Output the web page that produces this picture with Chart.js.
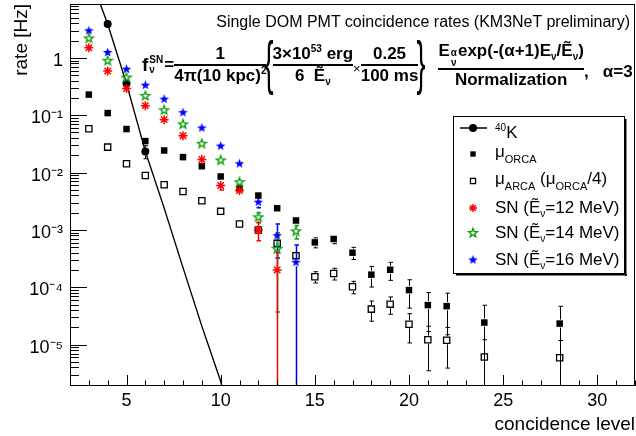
<!DOCTYPE html>
<html>
<head>
<meta charset="utf-8">
<script src="https://cdn.jsdelivr.net/npm/chart.js@4.4.1/dist/chart.umd.min.js"></script>
<style>
  html, body { margin: 0; padding: 0; background: #fff; }
  #wrap { position: relative; width: 636px; height: 436px; font-family: 'Liberation Sans', Arial, sans-serif; color: #000; }
  #c { position: absolute; left: 0; top: 0; }
  .txt { position: absolute; white-space: nowrap; line-height: 22px; }
  #title { right: 6px; top: 11px; font-size: 16px; }
  .lg { left: 495px; font-size: 17px; }
  .up { font-size: 10px; vertical-align: 7px; }
  .dn { font-size: 11px; vertical-align: -6px; }
  .dn2 { font-size: 10px; vertical-align: -4px; }
  #formula { position: absolute; left: 142px; top: 37px; height: 56px; display: flex; align-items: center; font-weight: bold; font-size: 17px; white-space: nowrap; }
  .ss { display: inline-flex; flex-direction: column; font-size: 10px; line-height: 10px; margin: 0 1px; }
  .frac { display: inline-flex; flex-direction: column; text-align: center; line-height: 20px; }
  .frac > span:first-child { border-bottom: 2px solid #000; }
  .brace { font-weight: normal; font-size: 60px; line-height: 60px; transform: scaleX(0.45); margin: -4px -7px 0 -7px; }
  .frac sup, .frac sub { font-size: 10px; line-height: 0; }
</style>
</head>
<body>
<div id="wrap">
  <canvas id="c" width="636" height="436"></canvas>
  <div class="txt" id="title">Single DOM PMT coincidence rates (KM3NeT preliminary)</div>
  <div id="formula">
    <span style="font-size:19px">f</span><span class="ss"><span>SN</span><span>ν</span></span>
    <span>=</span>
    <span class="frac"><span>1</span><span>4π(10 kpc)<sup>2</sup></span></span>
    <span class="brace">{</span>
    <span class="frac"><span>3×10<sup>53</sup> erg</span><span>6&nbsp;&nbsp;Ẽ<sub>ν</sub></span></span>
    <span style="font-weight:normal;font-size:13px;margin-top:6px">×</span>
    <span class="frac"><span>0.25</span><span>100 ms</span></span>
    <span class="brace">}</span>
    <span class="frac" style="margin-left:14px"><span>E<span class="ss"><span>α</span><span>ν</span></span>exp(-(α+1)E<sub>ν</sub>/Ẽ<sub>ν</sub>)</span><span>Normalization</span></span>
    <span style="margin-top:14px">,&nbsp;&nbsp; α=3</span>
  </div>
  <div class="txt lg" style="top:117px"><span class="up">40</span>K</div>
  <div class="txt lg" style="top:141px">μ<span class="dn">ORCA</span></div>
  <div class="txt lg" style="top:168px">μ<span class="dn">ARCA</span> (μ<span class="dn">ORCA</span>/4)</div>
  <div class="txt lg" style="top:197px">SN (Ẽ<span class="dn2">ν</span>=12 MeV)</div>
  <div class="txt lg" style="top:222px">SN (Ẽ<span class="dn2">ν</span>=14 MeV)</div>
  <div class="txt lg" style="top:249px">SN (Ẽ<span class="dn2">ν</span>=16 MeV)</div>
</div>
<script>
// coincidence levels and rates [Hz]
const levels = [3, 4, 5, 6, 7, 8, 9, 10, 11, 12, 13, 14, 15, 16, 17, 18, 19, 20, 21, 22, 24, 28];
const orcaRate = [0.229, 0.109, 0.0574, 0.0354, 0.0243, 0.0186, 0.0129, 0.00855, 0.0053, 0.00398, 0.00239, 0.00146,
  6.07e-4, 6.95e-4, 4.01e-4, 1.66e-4, 2.02e-4, 8.93e-5, 4.89e-5, 4.69e-5, 2.43e-5, 2.33e-5];
const orcaErr = [0, 0, 0, 0.001, 0.0007, 0.0006, 0.0005, 0.0004, 0.0003, 0.00025, 0.00018, 0.00012,
  1.2e-4, 1.2e-4, 9.6e-5, 6.5e-5, 7e-5, 4.6e-5, 3.2e-5, 3.2e-5, 2.43e-5, 2.33e-5];
const arcaRate = [0.058, 0.0278, 0.0143, 0.0089, 0.00612, 0.00467, 0.00323, 0.00211, 0.00127, 0.001, 5.83e-4, 3.56e-4,
  1.53e-4, 1.74e-4, 1.02e-4, 4.16e-5, 5.08e-5, 2.27e-5, 1.22e-5, 1.19e-5, 6.1e-6, 5.9e-6];
const arcaErr = [0, 0, 0, 0, 0, 0, 0.0001, 0.0001, 8e-5, 6e-5, 4.5e-5, 3e-5,
  3.4e-5, 4e-5, 2.5e-5, 1.6e-5, 1.7e-5, 1.2e-5, 8.7e-6, 8e-6, 6.1e-6, 5.9e-6];

const k40Levels = [3, 4, 5, 6, 7, 8, 9, 10, 11];
const k40Rate = [30, 3.9, 0.356, 0.0234, 2.4e-3, 2.2e-4, 2.1e-5, 2.3e-6, 1e-7];
const k40Err = [0, 0, 0, 0.006, 0, 0, 0, 0, 0];

const sn12Levels = [3, 4, 5, 6, 7, 8, 9, 10, 11, 12, 13];
const sn12Rate = [1.5, 0.59, 0.292, 0.147, 0.0838, 0.044, 0.0169, 0.00595, 0.00487, 0.001, 2e-4];
const sn12Err = [0, 0, 0, 0, 0.002, 0.0015, 0.0015, 0.001, 0.00065, 0.00035, 2e-4];

const snLevels = [3, 4, 5, 6, 7, 8, 9, 10, 11, 12, 13, 14];
const sn14Rate = [2.18, 0.89, 0.454, 0.217, 0.122, 0.0693, 0.0319, 0.0163, 0.00679, 0.00166, 4.67e-4, 9.46e-4];
const sn14Err = [0, 0, 0, 0, 0.003, 0.002, 0.002, 0.0016, 0.0011, 0.00033, 4.3e-4, 2.5e-4];
const sn16Rate = [2.97, 1.24, 0.634, 0.333, 0.19, 0.111, 0.0598, 0.029, 0.01425, 0.00304, 7.94e-4, 2.72e-4];
const sn16Err = [0, 0, 0, 0, 0.004, 0.003, 0.003, 0.002, 0.002, 0.0006, 4.7e-4, 2.72e-4];

const yMin = 1.9e-6, yMax = 8.7;
const RED = '#ff0000', GREEN = '#10a010', BLUE = '#0000ff';

const pts = (xs, ys) => xs.map((v, i) => ({ x: v, y: ys[i] }));

function starCanvas(size, fill, stroke, lw) {
  const c = document.createElement('canvas');
  c.width = c.height = size;
  const g = c.getContext('2d');
  const R = size / 2 - lw, r = R * 0.42, m = size / 2;
  g.beginPath();
  for (let k = 0; k < 10; k++) {
    const a = -Math.PI / 2 + k * Math.PI / 5;
    const rr = k % 2 ? r : R;
    g.lineTo(m + rr * Math.cos(a), m + rr * Math.sin(a));
  }
  g.closePath();
  if (fill) { g.fillStyle = fill; g.fill(); }
  if (stroke) { g.strokeStyle = stroke; g.lineWidth = lw; g.stroke(); }
  return c;
}
const blueStar = starCanvas(11, BLUE, null, 0.5);
const greenStar = starCanvas(12, null, GREEN, 1.4);

const sup = { '-': '⁻', '0': '⁰', '1': '¹', '2': '²', '3': '³', '4': '⁴', '5': '⁵', '6': '⁶', '7': '⁷', '8': '⁸', '9': '⁹' };
function powLabel(v) {
  const l = Math.log10(v);
  if (Math.abs(l - Math.round(l)) > 1e-6) return '';
  const n = Math.round(l);
  if (n === 0) return '1';
  return '10' + String(n).split('').map(ch => sup[ch]).join('');
}

// error bars, drawn under the markers, with a gap around the marker
const errorBars = {
  id: 'errorBars',
  beforeDatasetsDraw(chart) {
    const { ctx, chartArea: a, scales: { x, y } } = chart;
    ctx.save();
    ctx.beginPath();
    ctx.rect(a.left, a.top, a.right - a.left, a.bottom - a.top);
    ctx.clip();
    chart.data.datasets.forEach(ds => {
      if (!ds.errors) return;
      ctx.strokeStyle = ds.errColor;
      ctx.lineWidth = ds.errWidth;
      ds.data.forEach((p, i) => {
        const e = ds.errors[i];
        if (!e) return;
        const px = Math.round(x.getPixelForValue(p.x)) + 0.5;
        const py = y.getPixelForValue(p.y);
        const hi = y.getPixelForValue(p.y + e);
        const lo = p.y - e > 0 ? y.getPixelForValue(p.y - e) : a.bottom + 5;
        const gap = 4;
        ctx.beginPath();
        if (hi < py - gap) { ctx.moveTo(px, py - gap); ctx.lineTo(px, hi); ctx.moveTo(px - 2, hi); ctx.lineTo(px + 2.5, hi); }
        if (lo > py + gap) { ctx.moveTo(px, py + gap); ctx.lineTo(px, lo); ctx.moveTo(px - 2, lo); ctx.lineTo(px + 2.5, lo); }
        ctx.stroke();
      });
    });
    ctx.restore();
  }
};

// frame and inward ticks, ROOT style
const frameTicks = {
  id: 'frameTicks',
  afterDraw(chart) {
    const { ctx, chartArea: a, scales: { x, y } } = chart;
    ctx.save();
    ctx.strokeStyle = '#000';
    ctx.lineWidth = 1;
    ctx.strokeRect(a.left + 0.5, a.top + 0.5, a.right - a.left - 1, a.bottom - a.top - 1);
    ctx.beginPath();
    for (let v = Math.ceil(x.min); v <= x.max; v++) {
      const px = Math.round(x.getPixelForValue(v)) + 0.5;
      const len = v % 5 === 0 ? 11 : 5.5;
      ctx.moveTo(px, a.bottom); ctx.lineTo(px, a.bottom - len);
    }
    for (let e = Math.floor(Math.log10(yMin)); e <= Math.ceil(Math.log10(yMax)); e++) {
      for (let k = 1; k <= 9; k++) {
        const v = k * Math.pow(10, e);
        if (v < yMin || v > yMax) continue;
        const py = Math.round(y.getPixelForValue(v)) + 0.5;
        ctx.moveTo(a.left, py); ctx.lineTo(a.left + (k === 1 ? 17 : 9), py);
      }
    }
    ctx.stroke();
    ctx.restore();
  }
};

// legend box with markers; the texts are html on top
const legendBox = {
  id: 'legendBox',
  afterDraw(chart) {
    const { ctx } = chart;
    const bx = 453, by = 116, bw = 171, bh = 157;
    ctx.save();
    ctx.fillStyle = '#fff';
    ctx.fillRect(bx, by, bw, bh);
    ctx.strokeStyle = '#000';
    ctx.lineWidth = 1;
    ctx.strokeRect(bx + 0.5, by + 0.5, bw, bh);
    ctx.fillStyle = '#000';
    ctx.fillRect(bx + bw + 1, by + 3, 1.5, bh);
    ctx.fillRect(bx + 3, by + bh + 1, bw, 1.5);
    const mx = 473;
    const rows = [128, 154, 181, 208, 233, 260];
    const order = ['k40', 'orca', 'arca', 'sn12', 'sn14', 'sn16'];
    order.forEach((key, i) => {
      const ds = chart.data.datasets.find(d => d.key === key);
      const yy = rows[i];
      if (key === 'k40') {
        ctx.strokeStyle = '#000';
        ctx.lineWidth = 1.5;
        ctx.beginPath(); ctx.moveTo(460, yy); ctx.lineTo(487, yy); ctx.stroke();
      }
      ctx.fillStyle = ds.pointBackgroundColor;
      ctx.strokeStyle = ds.pointBorderColor;
      ctx.lineWidth = ds.pointBorderWidth;
      Chart.helpers.drawPoint(ctx, { pointStyle: ds.pointStyle, radius: key === 'k40' ? 4 : ds.legendRadius, borderWidth: ds.pointBorderWidth, rotation: 0 }, mx, yy);
    });
    ctx.restore();
  }
};

Chart.defaults.font.family = "'Liberation Sans', Arial, sans-serif";
Chart.defaults.color = '#000';

new Chart(document.getElementById('c'), {
  type: 'scatter',
  data: {
    datasets: [
      { key: 'sn16', data: pts(snLevels, sn16Rate), errors: sn16Err, errColor: BLUE, errWidth: 1.5,
        pointStyle: blueStar, pointRadius: 5, legendRadius: 5, pointBackgroundColor: BLUE, pointBorderColor: BLUE, pointBorderWidth: 0 },
      { key: 'sn14', data: pts(snLevels, sn14Rate), errors: sn14Err, errColor: GREEN, errWidth: 1.5,
        pointStyle: greenStar, pointRadius: 5, legendRadius: 5, pointBackgroundColor: GREEN, pointBorderColor: GREEN, pointBorderWidth: 0 },
      { key: 'sn12', data: pts(sn12Levels, sn12Rate), errors: sn12Err, errColor: RED, errWidth: 1.5,
        pointStyle: 'star', pointRadius: 4.5, legendRadius: 4, pointBackgroundColor: RED, pointBorderColor: RED, pointBorderWidth: 1.5 },
      { key: 'arca', data: pts(levels, arcaRate), errors: arcaErr, errColor: '#000', errWidth: 1,
        pointStyle: 'rect', pointRadius: 4.4, legendRadius: 3.6, pointBackgroundColor: 'rgba(0,0,0,0)', pointBorderColor: '#000', pointBorderWidth: 1.3 },
      { key: 'orca', data: pts(levels, orcaRate), errors: orcaErr, errColor: '#000', errWidth: 1,
        pointStyle: 'rect', pointRadius: 4.6, legendRadius: 3.8, pointBackgroundColor: '#000', pointBorderColor: '#000', pointBorderWidth: 0 },
      { key: 'k40', data: pts(k40Levels, k40Rate), errors: k40Err, errColor: '#000', errWidth: 1,
        showLine: true, borderColor: '#000', borderWidth: 1.4, tension: 0,
        pointStyle: 'circle', pointRadius: ctx => (ctx.raw && ctx.raw.x >= 4 && ctx.raw.x <= 6) ? 4 : 0,
        pointBackgroundColor: '#000', pointBorderColor: '#000', pointBorderWidth: 0 }
    ]
  },
  options: {
    responsive: false,
    animation: false,
    events: [],
    layout: { autoPadding: false, padding: { left: 0, right: 1, top: 4, bottom: 0 } },
    plugins: { legend: { display: false }, tooltip: { enabled: false } },
    scales: {
      x: {
        type: 'linear', min: 2, max: 32,
        grid: { display: false, drawTicks: false },
        border: { display: false },
        ticks: { stepSize: 1, autoSkip: false, maxRotation: 0, padding: 4, font: { size: 18 },
          callback: v => (v % 5 === 0 ? String(v) : '') },
        title: { display: true, text: 'concidence level', align: 'end', font: { size: 19 }, padding: { top: 0, bottom: 0 } },
        afterFit: s => { s.height = 50; s.paddingLeft = 0; s.paddingRight = 0; }
      },
      y: {
        type: 'logarithmic', min: yMin, max: yMax,
        grid: { display: false, drawTicks: false },
        border: { display: false },
        ticks: { autoSkip: false, padding: 7, labelOffset: 3, font: { size: 18 }, callback: powLabel },
        title: { display: true, text: 'rate [Hz]', align: 'end', font: { size: 19 }, padding: { top: 10, bottom: 0 } },
        afterFit: s => { s.width = 70; s.paddingTop = 0; s.paddingBottom = 0; }
      }
    }
  },
  plugins: [errorBars, frameTicks, legendBox]
});
</script>
</body>
</html>
